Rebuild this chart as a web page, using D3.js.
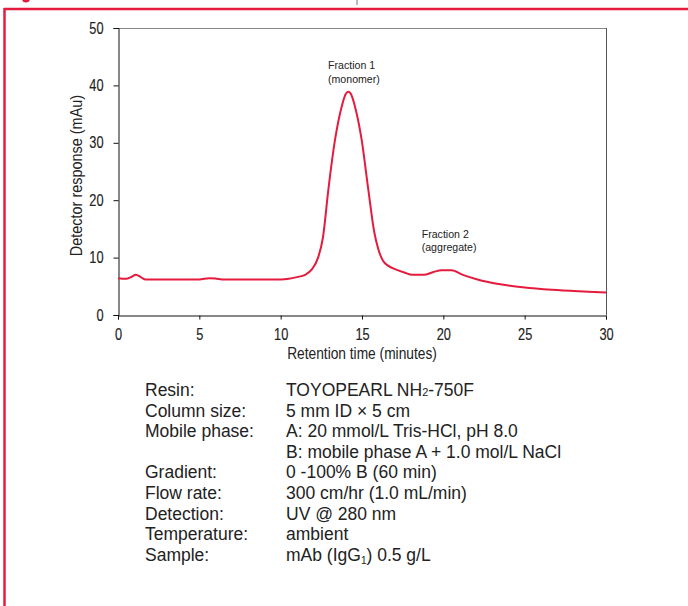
<!DOCTYPE html>
<html>
<head>
<meta charset="utf-8">
<script src="https://cdn.jsdelivr.net/npm/d3@7"></script>
<style>
  body { margin: 0; background: #fff; }
  svg { display: block; }
  text { font-family: "Liberation Sans", Arial, sans-serif; fill: #222; }
</style>
</head>
<body>
<svg id="chart" width="688" height="606"></svg>
<script>
// retention time (min) and detector response (mAu)
var times = [0, 0.5, 0.8, 1.1, 1.4, 1.7, 3, 5, 5.6, 6.0, 6.4, 8, 10, 10.5, 11, 11.5,
  11.9, 12.3, 12.6, 12.93, 13.34, 13.75, 14.0, 14.15, 14.3, 14.57, 14.98, 15.39, 15.75,
  16.0, 16.3, 16.6, 17.1, 17.6, 18.1, 18.8, 19.4, 19.9, 20.5, 21.2, 22.1, 23.4, 25,
  26.7, 28.9, 30];
var response = [6.4, 6.3, 6.6, 7.0, 6.6, 6.2, 6.2, 6.2, 6.4, 6.35, 6.2, 6.2, 6.2, 6.3, 6.6, 7.0,
  7.9, 10.0, 13.5, 21.8, 30.5, 36.3, 38.5, 38.9, 38.6, 36.3, 30.5, 21.8, 14.5,
  11.5, 9.4, 8.6, 7.9, 7.4, 7.0, 7.0, 7.5, 7.8, 7.8, 7.0, 6.2, 5.4, 4.8,
  4.4, 4.06, 3.9];

var xTicks = [0, 5, 10, 15, 20, 25, 30];
var yTicks = [0, 10, 20, 30, 40, 50];

var peakLabels = [
  { t: 12.91, v: 42.8, lines: ['Fraction 1', '(monomer)'] },
  { t: 18.67, v: 13.5, lines: ['Fraction 2', '(aggregate)'] }
];

var conditionNames = ['Resin:', 'Column size:', 'Mobile phase:', '', 'Gradient:',
  'Flow rate:', 'Detection:', 'Temperature:', 'Sample:'];
// [text, kind]: 0 normal, 1 small on the baseline, 2 subscript
var conditionValues = [
  [['TOYOPEARL NH', 0], ['2', 1], ['-750F', 0]],
  [['5 mm ID \u00d7 5 cm', 0]],
  [['A: 20 mmol/L Tris-HCl, pH 8.0', 0]],
  [['B: mobile phase A + 1.0 mol/L NaCl', 0]],
  [['0 -100% B (60 min)', 0]],
  [['300 cm/hr (1.0 mL/min)', 0]],
  [['UV @ 280 nm', 0]],
  [['ambient', 0]],
  [['mAb (IgG', 0], ['1', 2], [') 0.5 g/L', 0]]
];

var red = '#e51b3e';
var narrow = 0.8;   // squeeze for the condensed axis lettering
var svg = d3.select('#chart');

// page frame and the clipped caption line above it
svg.append('line').attr('x1', 4).attr('x2', 688).attr('y1', 9).attr('y2', 9)
  .attr('stroke', red).attr('stroke-width', 2.5);
svg.append('line').attr('x1', 4.5).attr('x2', 4.5).attr('y1', 8).attr('y2', 606)
  .attr('stroke', red).attr('stroke-width', 2.5);
svg.append('circle').attr('cx', 26).attr('cy', -1.5).attr('r', 4).attr('fill', red);
svg.append('line').attr('x1', 357).attr('x2', 357).attr('y1', 0).attr('y2', 5)
  .attr('stroke', '#777').attr('stroke-width', 1);

var margin = { left: 118, top: 28, right: 606, bottom: 315 };
var x = d3.scaleLinear().domain([0, 30]).range([margin.left, margin.right]);
var y = d3.scaleLinear().domain([0, 50]).range([margin.bottom, margin.top]);

// box round the plot
svg.append('line').attr('x1', x(0)).attr('x2', x(30)).attr('y1', y(50) + 0.5).attr('y2', y(50) + 0.5)
  .attr('stroke', '#888');
svg.append('line').attr('x1', x(30) + 0.5).attr('x2', x(30) + 0.5).attr('y1', y(50)).attr('y2', y(0))
  .attr('stroke', '#555');

var xAxis = svg.append('g')
  .attr('transform', 'translate(0,' + (y(0) + 0.5) + ')')
  .call(d3.axisBottom(x).tickValues(xTicks).tickSize(4).tickPadding(9).tickFormat(d3.format('d')));
var yAxis = svg.append('g')
  .attr('transform', 'translate(' + (x(0) + 0.5) + ',0)')
  .call(d3.axisLeft(y).tickValues(yTicks).tickSize(5).tickPadding(10).tickFormat(d3.format('d')));

[xAxis, yAxis].forEach(function(g) {
  g.attr('font-family', null).attr('font-size', null);
  g.select('.domain').attr('stroke', '#111');
  g.selectAll('.tick line').attr('stroke', '#111');
  g.selectAll('.tick text')
    .style('font-size', '16px')
    .attr('fill', '#222')
    .attr('stroke', '#222')
    .attr('stroke-width', 0.15);
});
yAxis.selectAll('.tick text')
  .attr('x', -15 / narrow)
  .attr('transform', 'scale(' + narrow + ',1)');
xAxis.selectAll('.tick text')
  .attr('transform', 'scale(' + narrow + ',1)');

svg.append('text')
  .attr('transform', 'translate(' + (x(0) + x(30)) / 2 + ',359) scale(0.86,1)')
  .attr('text-anchor', 'middle').style('font-size', '16px')
  .text('Retention time (minutes)');

svg.append('text')
  .attr('transform', 'translate(82,' + y(24.3) + ') rotate(-90) scale(0.875,1)')
  .attr('text-anchor', 'middle').style('font-size', '16.5px')
  .text('Detector response (mAu)');

var trace = times.map(function(t, i) { return [t, response[i]]; });
var line = d3.line()
  .x(function(d) { return x(d[0]); })
  .y(function(d) { return y(d[1]); })
  .curve(d3.curveMonotoneX);

svg.append('path')
  .datum(trace)
  .attr('d', line)
  .attr('fill', 'none')
  .attr('stroke', red)
  .attr('stroke-width', 2);

peakLabels.forEach(function(p) {
  var t = svg.append('text')
    .attr('x', x(p.t)).attr('y', y(p.v))
    .style('font-size', '10.6px').attr('fill', '#333');
  p.lines.forEach(function(s, i) {
    t.append('tspan').attr('x', x(p.t)).attr('dy', i ? 13.5 : 0).text(s);
  });
});

// run conditions below the chart
var rows = svg.append('g').style('font-size', '17.5px');
conditionNames.forEach(function(name, i) {
  var yy = 396 + i * 20.6;
  rows.append('text').attr('x', 145).attr('y', yy).text(name);
  var v = rows.append('text').attr('x', 286).attr('y', yy);
  var shift = 0;
  conditionValues[i].forEach(function(part) {
    var ts = v.append('tspan').text(part[0]);
    if (part[1] === 1) ts.style('font-size', '11px');
    if (part[1] === 2) { ts.style('font-size', '10px').attr('dy', 3); shift = 3; }
    else if (shift) { ts.attr('dy', -shift); shift = 0; }
  });
});
</script>
</body>
</html>
